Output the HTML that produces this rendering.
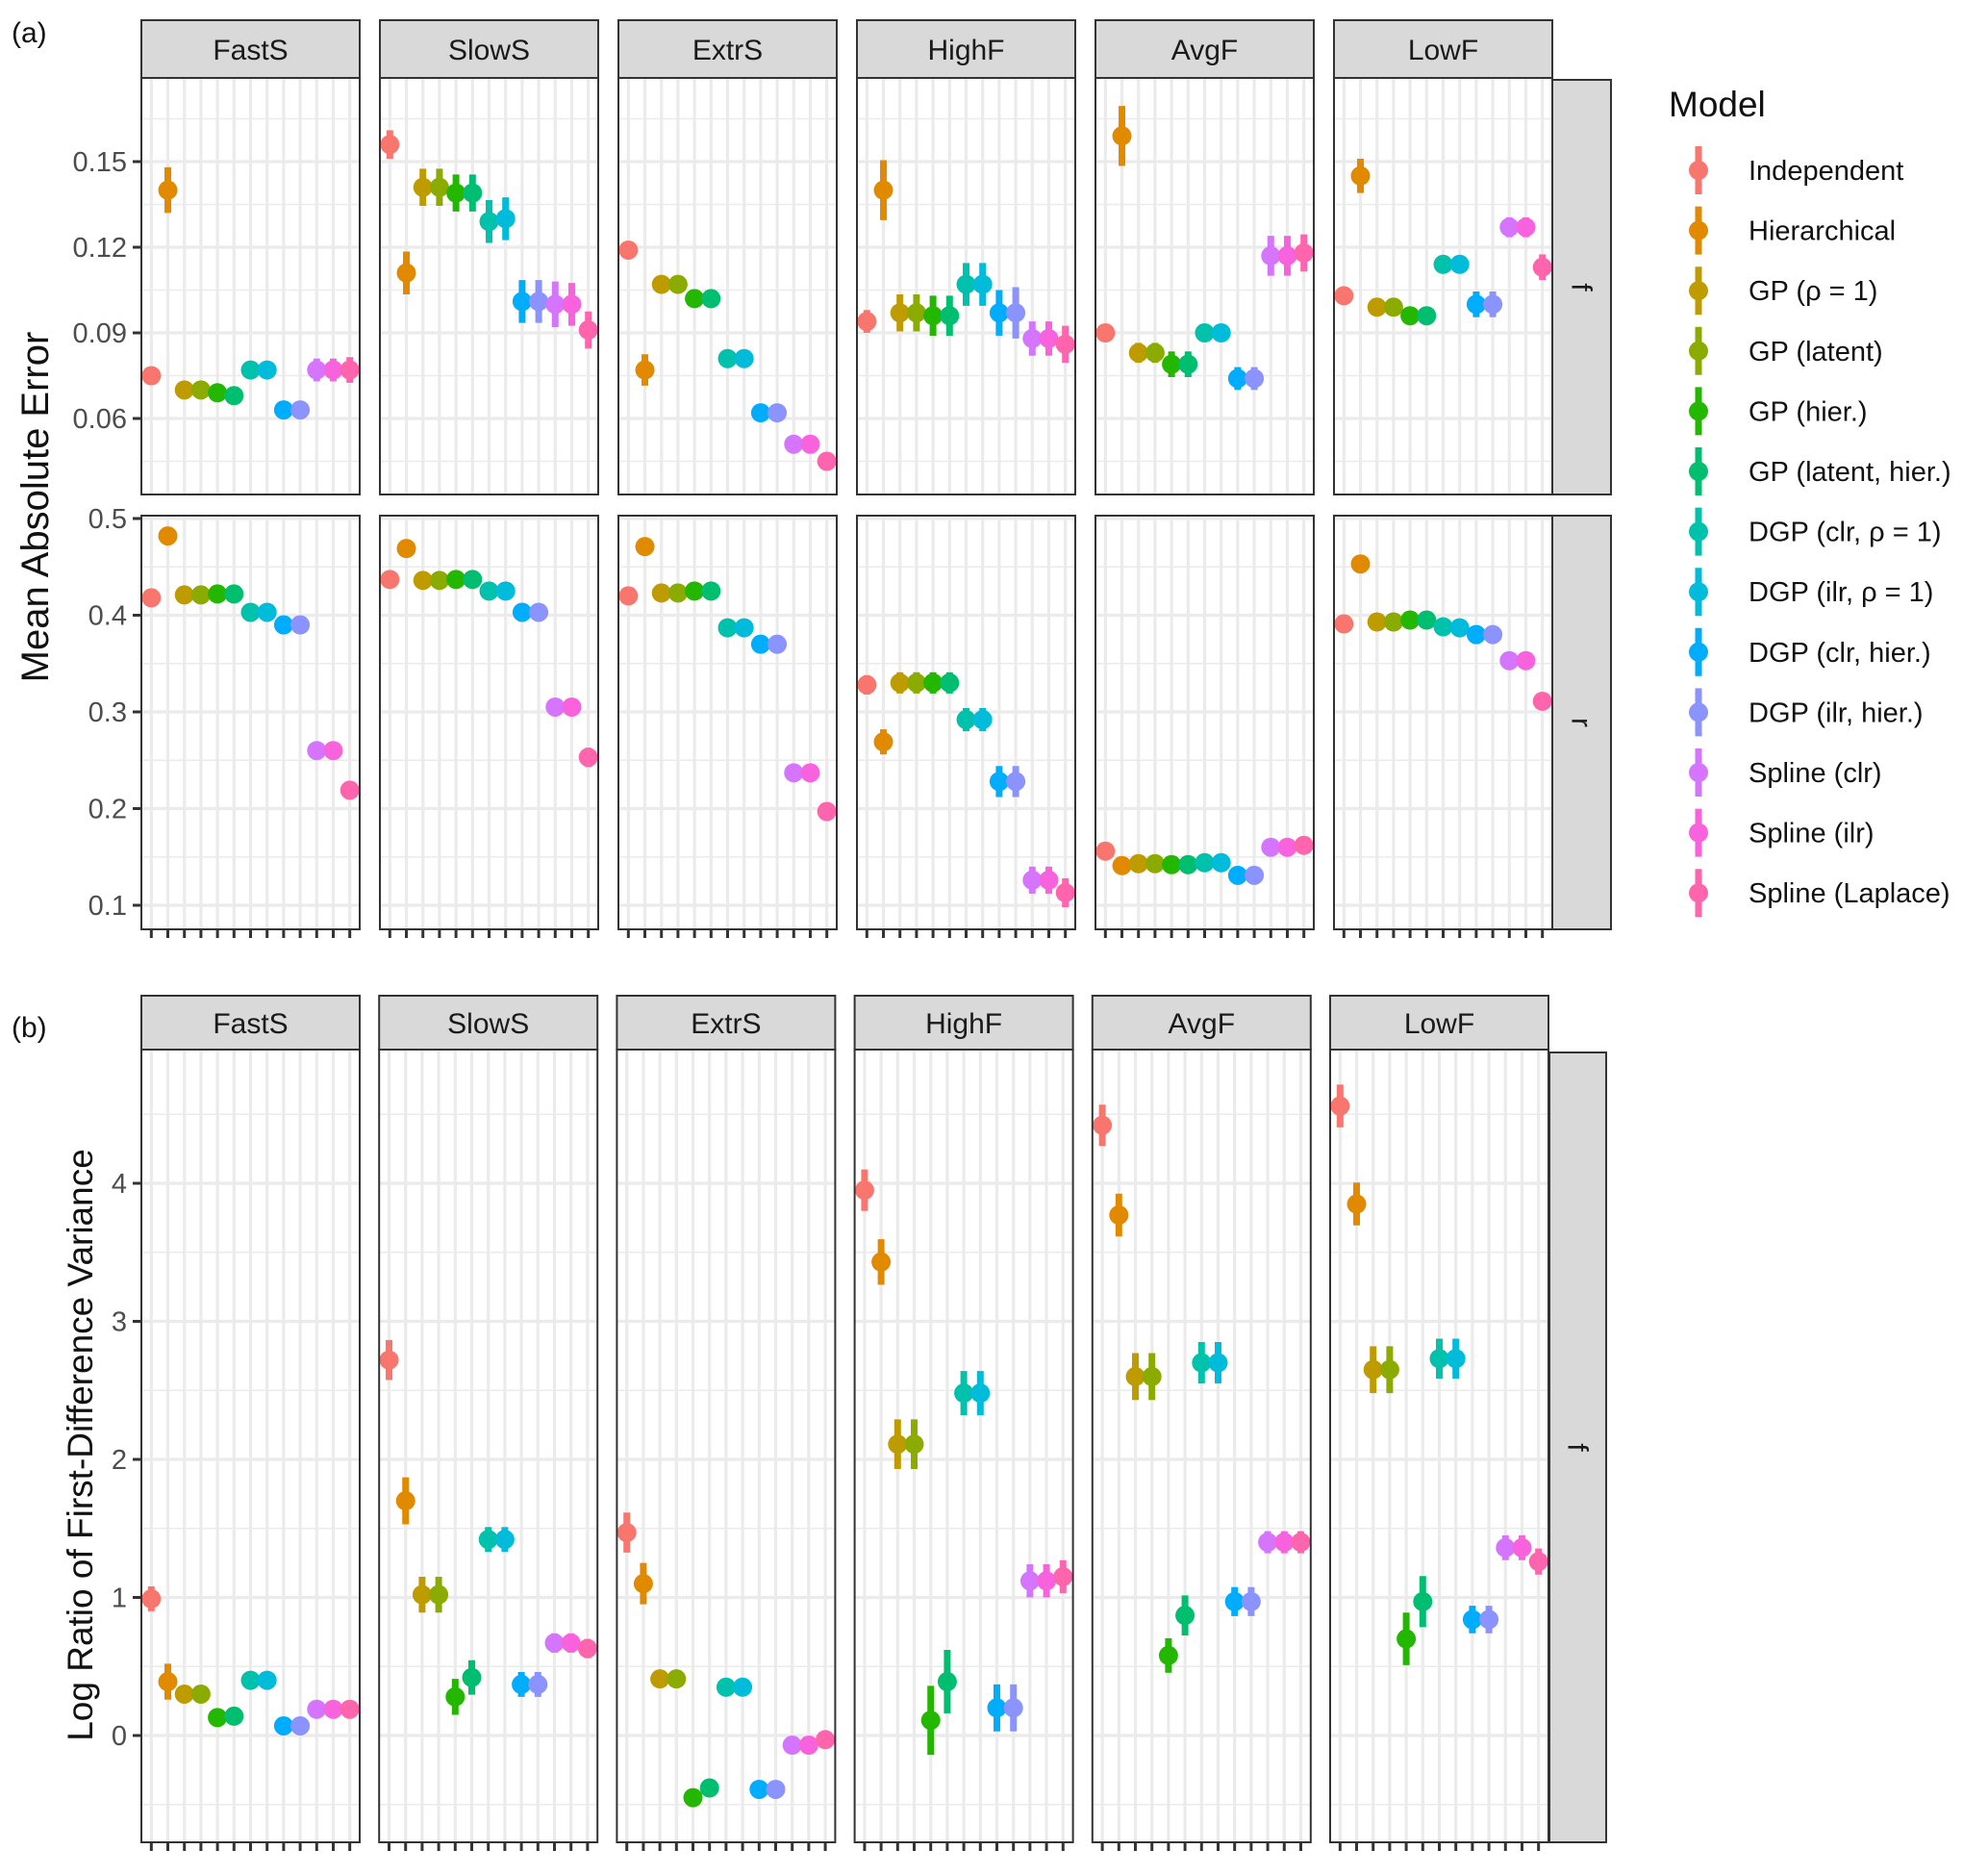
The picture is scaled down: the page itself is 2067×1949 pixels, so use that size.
<!DOCTYPE html>
<html><head><meta charset="utf-8">
<style>
html,body{margin:0;padding:0;background:#fff;}
svg text{font-family:"Liberation Sans",Arial,sans-serif;}
</style></head>
<body>
<svg id="chart" xmlns="http://www.w3.org/2000/svg" width="2067" height="1944" viewBox="0 0 2067 1944">
<rect x="0" y="0" width="2067" height="1944" fill="#fff"/>
<g id="root"></g>
</svg>
<script>
const models = ["Independent","Hierarchical","GP (ρ = 1)","GP (latent)","GP (hier.)","GP (latent, hier.)","DGP (clr, ρ = 1)","DGP (ilr, ρ = 1)","DGP (clr, hier.)","DGP (ilr, hier.)","Spline (clr)","Spline (ilr)","Spline (Laplace)"];
const colors = ["#F8766D","#E18A00","#BE9C00","#8CAB00","#24B700","#00BE70","#00C1AB","#00BBDA","#00ACFC","#8B93FF","#D575FE","#F962DD","#FF65AC"];
const scenarios = ["FastS","SlowS","ExtrS","HighF","AvgF","LowF"];

// (a) MAE, f
const maeF_FastS = [0.075,0.140,0.070,0.070,0.069,0.068,0.077,0.077,0.063,0.063,0.077,0.077,0.077];
const maeF_SlowS = [0.156,0.111,0.141,0.141,0.139,0.139,0.129,0.130,0.101,0.101,0.100,0.100,0.091];
const maeF_ExtrS = [0.119,0.077,0.107,0.107,0.102,0.102,0.081,0.081,0.062,0.062,0.051,0.051,0.045];
const maeF_HighF = [0.094,0.140,0.097,0.097,0.096,0.096,0.107,0.107,0.097,0.097,0.088,0.088,0.086];
const maeF_AvgF  = [0.090,0.159,0.083,0.083,0.079,0.079,0.090,0.090,0.074,0.074,0.117,0.117,0.118];
const maeF_LowF  = [0.103,0.145,0.099,0.099,0.096,0.096,0.114,0.114,0.100,0.100,0.127,0.127,0.113];
const maeFErr_FastS = [0.002,0.008,0.002,0.002,0.002,0.002,0.002,0.002,0.003,0.003,0.004,0.004,0.0045];
const maeFErr_SlowS = [0.005,0.0075,0.0065,0.0065,0.0065,0.0065,0.0075,0.0075,0.0075,0.0075,0.008,0.0075,0.0065];
const maeFErr_ExtrS = [0.003,0.0055,0.002,0.002,0.001,0.001,0.001,0.001,0.001,0.001,0.001,0.001,0.001];
const maeFErr_HighF = [0.004,0.0105,0.0065,0.0065,0.007,0.007,0.0075,0.0075,0.008,0.009,0.006,0.006,0.0065];
const maeFErr_AvgF  = [0.001,0.0105,0.0035,0.0035,0.0045,0.0045,0.003,0.003,0.004,0.004,0.007,0.007,0.0065];
const maeFErr_LowF  = [0.001,0.006,0.002,0.002,0.003,0.003,0.003,0.003,0.0045,0.0045,0.0035,0.0035,0.0045];

// (a) MAE, r
const maeR_FastS = [0.418,0.482,0.421,0.421,0.422,0.422,0.403,0.403,0.390,0.390,0.260,0.260,0.219];
const maeR_SlowS = [0.437,0.469,0.436,0.436,0.437,0.437,0.425,0.425,0.403,0.403,0.305,0.305,0.253];
const maeR_ExtrS = [0.420,0.471,0.423,0.423,0.425,0.425,0.387,0.387,0.370,0.370,0.237,0.237,0.197];
const maeR_HighF = [0.328,0.269,0.330,0.330,0.330,0.330,0.292,0.292,0.228,0.228,0.126,0.126,0.113];
const maeR_AvgF  = [0.156,0.141,0.143,0.143,0.142,0.142,0.144,0.144,0.131,0.131,0.160,0.160,0.162];
const maeR_LowF  = [0.391,0.453,0.393,0.393,0.395,0.395,0.388,0.387,0.380,0.380,0.353,0.353,0.311];
const maeRErr_FastS = [0.002,0.002,0.002,0.002,0.002,0.002,0.002,0.002,0.002,0.002,0.002,0.002,0.002];
const maeRErr_SlowS = [0.002,0.002,0.002,0.002,0.002,0.002,0.002,0.002,0.002,0.002,0.008,0.008,0.010];
const maeRErr_ExtrS = [0.002,0.002,0.002,0.002,0.002,0.002,0.002,0.002,0.002,0.002,0.002,0.002,0.002];
const maeRErr_HighF = [0.010,0.013,0.011,0.011,0.011,0.011,0.012,0.012,0.016,0.016,0.014,0.014,0.015];
const maeRErr_AvgF  = [0.002,0.002,0.002,0.002,0.002,0.002,0.002,0.002,0.002,0.002,0.002,0.002,0.002];
const maeRErr_LowF  = [0.002,0.002,0.002,0.002,0.002,0.002,0.002,0.002,0.002,0.002,0.002,0.002,0.002];

// (b) log ratio of first-difference variance
const lr_FastS = [0.99,0.39,0.30,0.30,0.13,0.14,0.40,0.40,0.07,0.07,0.19,0.19,0.19];
const lr_SlowS = [2.72,1.70,1.02,1.02,0.28,0.42,1.42,1.42,0.37,0.37,0.67,0.67,0.63];
const lr_ExtrS = [1.47,1.10,0.41,0.41,-0.45,-0.38,0.35,0.35,-0.39,-0.39,-0.07,-0.07,-0.03];
const lr_HighF = [3.95,3.43,2.11,2.11,0.11,0.39,2.48,2.48,0.20,0.20,1.12,1.12,1.15];
const lr_AvgF  = [4.42,3.77,2.60,2.60,0.58,0.87,2.70,2.70,0.97,0.97,1.40,1.40,1.40];
const lr_LowF  = [4.56,3.85,2.65,2.65,0.70,0.97,2.73,2.73,0.84,0.84,1.36,1.36,1.26];
const lrErr_FastS = [0.09,0.13,0.03,0.03,0.03,0.03,0.03,0.03,0.03,0.03,0.03,0.03,0.03];
const lrErr_SlowS = [0.145,0.17,0.13,0.13,0.13,0.125,0.09,0.09,0.09,0.09,0.07,0.07,0.07];
const lrErr_ExtrS = [0.145,0.15,0.05,0.05,0.03,0.03,0.03,0.03,0.03,0.03,0.03,0.03,0.03];
const lrErr_HighF = [0.15,0.165,0.18,0.18,0.25,0.23,0.16,0.16,0.17,0.17,0.12,0.12,0.12];
const lrErr_AvgF  = [0.15,0.155,0.17,0.17,0.125,0.145,0.15,0.15,0.105,0.105,0.08,0.08,0.08];
const lrErr_LowF  = [0.155,0.155,0.17,0.17,0.19,0.185,0.145,0.145,0.10,0.10,0.09,0.09,0.095];

const ticksF = [0.06,0.09,0.12,0.15];
const tickLabelsF = ["0.06","0.09","0.12","0.15"];
const ticksR = [0.1,0.2,0.3,0.4,0.5];
const tickLabelsR = ["0.1","0.2","0.3","0.4","0.5"];
const ticksB = [0,1,2,3,4];
const tickLabelsB = ["0","1","2","3","4"];

const NS="http://www.w3.org/2000/svg";
const root=document.getElementById('root');
function mk(tag,attrs,parent){const e=document.createElementNS(NS,tag);for(const k in attrs)e.setAttribute(k,attrs[k]);(parent||root).appendChild(e);return e;}

function linScale(v0,p0,v1,p1){return v=>p0+(v-v0)*(p1-p0)/(v1-v0);}

function drawPanel(opt){
  const {x,w,top,bot,y,major,labels,minor,vals,errs,name,showY}=opt;
  const g=mk('g',{});
  
  
  mk('rect',{x:x,y:top,width:w,height:bot-top,fill:'#fff'},g);
  const step=w/13.2;
  const xp=i=>x+(0.6+i)*step;
  minor.forEach(v=>{const yy=y(v);if(yy>top&&yy<bot)mk('line',{x1:x,x2:x+w,y1:yy,y2:yy,stroke:'#EBEBEB','stroke-width':1.6},g);});
  major.forEach(v=>{const yy=y(v);mk('line',{x1:x,x2:x+w,y1:yy,y2:yy,stroke:'#EBEBEB','stroke-width':3.2},g);});
  for(let i=0;i<13;i++)mk('line',{x1:xp(i),x2:xp(i),y1:top,y2:bot,stroke:'#EBEBEB','stroke-width':3.2},g);
  for(let i=0;i<13;i++){
    const m=mk('g',{},g);
    
    
    mk('line',{x1:xp(i),x2:xp(i),y1:y(vals[i]-errs[i]),y2:y(vals[i]+errs[i]),stroke:colors[i],'stroke-width':7},m);
    mk('circle',{cx:xp(i),cy:y(vals[i]),r:10,fill:colors[i]},m);
  }
  mk('rect',{x:x,y:top,width:w,height:bot-top,fill:'none',stroke:'#333','stroke-width':2},g);
  if(showY){
    major.forEach((v,k)=>{const yy=y(v);
      mk('line',{x1:x-9,x2:x,y1:yy,y2:yy,stroke:'#333','stroke-width':3},g);
      const t=mk('text',{x:x-15,y:yy+10,'text-anchor':'end','font-size':29,fill:'#4D4D4D'},g);t.textContent=labels[k];
    });
  }
  return xp;
}
function xTicks(xp,bot){for(let i=0;i<13;i++)mk('line',{x1:xp(i),x2:xp(i),y1:bot,y2:bot+9,stroke:'#333','stroke-width':3});}
function strip(x,y,w,h,label,name){
  const r=mk('rect',{x:x,y:y,width:w,height:h,fill:'#D9D9D9',stroke:'#333','stroke-width':2});
  
  
  const t=mk('text',{x:x+w/2,y:y+h/2+11,'text-anchor':'middle','font-size':30,fill:'#1A1A1A'});t.textContent=label;
}
function rstrip(x,y,w,h,label,name){
  const r=mk('rect',{x:x,y:y,width:w,height:h,fill:'#D9D9D9',stroke:'#333','stroke-width':2});
  
  
  const cx=x+w/2,cy=y+h/2;
  const t=mk('text',{x:cx,y:cy,'text-anchor':'middle','font-size':30,fill:'#1A1A1A',transform:`rotate(90 ${cx} ${cy}) translate(0 10)`});t.textContent=label;
}

const dataF=[maeF_FastS,maeF_SlowS,maeF_ExtrS,maeF_HighF,maeF_AvgF,maeF_LowF];
const errF=[maeFErr_FastS,maeFErr_SlowS,maeFErr_ExtrS,maeFErr_HighF,maeFErr_AvgF,maeFErr_LowF];
const dataR=[maeR_FastS,maeR_SlowS,maeR_ExtrS,maeR_HighF,maeR_AvgF,maeR_LowF];
const errR=[maeRErr_FastS,maeRErr_SlowS,maeRErr_ExtrS,maeRErr_HighF,maeRErr_AvgF,maeRErr_LowF];
const dataB=[lr_FastS,lr_SlowS,lr_ExtrS,lr_HighF,lr_AvgF,lr_LowF];
const errB=[lrErr_FastS,lrErr_SlowS,lrErr_ExtrS,lrErr_HighF,lrErr_AvgF,lrErr_LowF];

// Part (a)
const yF=linScale(0.15,168,0.12,257);
const yR=linScale(0.5,539,0.1,941);
const PW=227;
for(let s=0;s<6;s++){
  const x=147+s*248;
  strip(x,21,PW,60,scenarios[s],'strip-a-'+scenarios[s].toLowerCase());
  drawPanel({x:x,w:PW,top:81,bot:514,y:yF,major:ticksF,labels:tickLabelsF,minor:[0.045,0.075,0.105,0.135,0.165],vals:dataF[s],errs:errF[s],name:'panel-a-f-'+scenarios[s].toLowerCase(),showY:s===0});
  const xp=drawPanel({x:x,w:PW,top:536,bot:966,y:yR,major:ticksR,labels:tickLabelsR,minor:[0.15,0.25,0.35,0.45],vals:dataR[s],errs:errR[s],name:'panel-a-r-'+scenarios[s].toLowerCase(),showY:s===0});
  xTicks(xp,966);
}
rstrip(1614,83,61,431,'f','strip-a-row-f');
rstrip(1614,536,61,430,'r','strip-a-row-r');

// Part (b)
const yB=linScale(0,1804,4,1230);
for(let s=0;s<6;s++){
  const x=147+s*247.2;
  strip(x,1035,PW,56,scenarios[s],'strip-b-'+scenarios[s].toLowerCase());
  const xp=drawPanel({x:x,w:PW,top:1091,bot:1915,y:yB,major:ticksB,labels:tickLabelsB,minor:[-0.5,0.5,1.5,2.5,3.5,4.5],vals:dataB[s],errs:errB[s],name:'panel-b-'+scenarios[s].toLowerCase(),showY:s===0});
  xTicks(xp,1915);
}
rstrip(1611,1094,59,821,'f','strip-b-row-f');

// labels
let t;
t=mk('text',{x:12,y:44,'font-size':30,fill:'#111'});t.textContent='(a)';

t=mk('text',{x:12,y:1078,'font-size':30,fill:'#111'});t.textContent='(b)';

t=mk('text',{x:0,y:0,'font-size':40,fill:'#111','text-anchor':'middle',transform:'translate(50 527) rotate(-90)'});t.textContent='Mean Absolute Error';

t=mk('text',{x:0,y:0,'font-size':37,fill:'#111','text-anchor':'middle',transform:'translate(96 1502) rotate(-90)'});t.textContent='Log Ratio of First-Difference Variance';


// legend
const lg=mk('g',{});


t=mk('text',{x:1735,y:121,'font-size':37,fill:'#111'},lg);t.textContent='Model';
for(let i=0;i<13;i++){
  const yy=177+i*62.6;
  const e=mk('g',{},lg);
  
  
  mk('line',{x1:1766,x2:1766,y1:yy-25,y2:yy+25,stroke:colors[i],'stroke-width':7},e);
  mk('circle',{cx:1766,cy:yy,r:10,fill:colors[i]},e);
  const tt=mk('text',{x:1818,y:yy+10,'font-size':29,fill:'#111'},e);tt.textContent=models[i];
}
</script>
</body></html>
